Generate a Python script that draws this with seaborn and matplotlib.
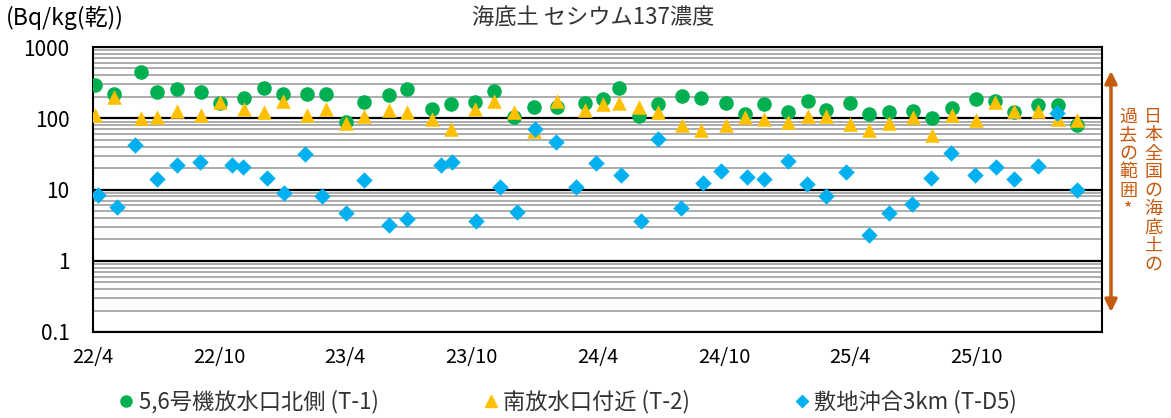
import pandas as pd
import seaborn as sns
import matplotlib.pyplot as plt
import matplotlib.dates as mdates
from matplotlib.lines import Line2D

# sampling dates shared by T-1 and T-2
dates_t12 = ['2022-04-04', '2022-05-02', '2022-06-10', '2022-07-03', '2022-07-31', '2022-09-04',
             '2022-10-02', '2022-11-05', '2022-12-04', '2023-01-01', '2023-02-05', '2023-03-05',
             '2023-04-02', '2023-04-29', '2023-06-03', '2023-06-30', '2023-08-05', '2023-09-01',
             '2023-10-06', '2023-11-03', '2023-12-01', '2023-12-31', '2024-02-02', '2024-03-14',
             '2024-04-08', '2024-05-02', '2024-05-30', '2024-06-27', '2024-08-01', '2024-08-29',
             '2024-10-03', '2024-10-31', '2024-11-28', '2025-01-02', '2025-01-30', '2025-02-26',
             '2025-04-01', '2025-04-29', '2025-05-28', '2025-07-01', '2025-07-29', '2025-08-27',
             '2025-09-30', '2025-10-28', '2025-11-25', '2025-12-30', '2026-01-27', '2026-02-24']
t1_vals = [294, 218, 452, 232, 259, 237, 163, 192, 264, 218, 222, 218,
           88.5, 170, 211, 259, 136, 161, 169, 245, 103, 146, 146, 162,
           188, 267, 107, 158, 204, 192, 166, 113, 158, 121, 176, 131,
           166, 116, 124, 128, 99.5, 140, 188, 172, 124, 155, 153, 81]
t2_vals = [112, 198, 100, 104, 127, 111, 169, 135, 121, 176, 111, 135,
           86, 108, 131, 124, 99, 71, 136, 176, 124, 66, 172, 131,
           158, 166, 146, 121, 81, 68, 81, 103, 98, 89, 106, 108,
           83, 68, 86, 104, 57.5, 111, 94, 169, 127, 128, 98, 95]

dates_d5 = ['2022-04-08', '2022-05-06', '2022-06-01', '2022-07-03', '2022-07-31', '2022-09-03',
            '2022-10-19', '2022-11-04', '2022-12-09', '2023-01-03', '2023-02-02', '2023-02-27',
            '2023-04-02', '2023-04-28', '2023-06-03', '2023-06-30', '2023-08-18', '2023-09-03',
            '2023-10-08', '2023-11-12', '2023-12-06', '2024-01-01', '2024-02-01', '2024-03-01',
            '2024-03-29', '2024-05-05', '2024-06-02', '2024-06-27', '2024-07-31', '2024-08-31',
            '2024-09-27', '2024-11-03', '2024-11-28', '2025-01-01', '2025-01-29', '2025-02-26',
            '2025-03-26', '2025-04-28', '2025-05-27', '2025-06-30', '2025-07-28', '2025-08-26',
            '2025-09-29', '2025-10-29', '2025-11-25', '2025-12-29', '2026-01-26', '2026-02-24']
d5_vals = [8.5, 5.7, 42, 14.1, 21.9, 24.6, 21.9, 20.5, 14.6, 9.0, 32, 8.2,
           4.7, 13.5, 3.2, 3.9, 21.9, 24.1, 3.65, 10.8, 4.8, 70.6, 46.9, 10.8,
           23.3, 15.8, 3.65, 51, 5.5, 12.4, 17.9, 15.0, 13.9, 25.5, 12.0, 8.2,
           17.7, 2.3, 4.7, 6.3, 14.6, 33, 15.8, 21, 14.1, 21.2, 117, 9.7]

series_names = ['5,6号機放水口北側 (T-1)', '南放水口付近 (T-2)', '敷地沖合3km (T-D5)']
x_tick_dates = ['2022-04-01', '2022-10-01', '2023-04-01', '2023-10-01',
                '2024-04-01', '2024-10-01', '2025-04-01', '2025-10-01']
x_tick_labels = ['22/4', '22/10', '23/4', '23/10', '24/4', '24/10', '25/4', '25/10']
y_ticks = [0.1, 1, 10, 100, 1000]
y_tick_labels = ['0.1', '1', '10', '100', '1000']

sns.set_style('white')
plt.rcParams['font.family'] = ['Noto Sans CJK JP', 'DejaVu Sans']

GREEN = '#00B050'
YELLOW = '#FFC000'
BLUE = '#00B0F0'
ORANGE = '#C55A11'
TEXT = '#333333'

df1 = pd.DataFrame({'date': pd.to_datetime(dates_t12), 'value': t1_vals})
df2 = pd.DataFrame({'date': pd.to_datetime(dates_t12), 'value': t2_vals})
df3 = pd.DataFrame({'date': pd.to_datetime(dates_d5), 'value': d5_vals})

fig = plt.figure(figsize=(11.71, 4.18), dpi=100)
ax = fig.add_axes([93 / 1171, 1 - 332 / 418, (1102 - 93) / 1171, (332 - 47) / 418])

sns.scatterplot(x='date', y='value', data=df1, ax=ax, marker='o', s=110,
                color=GREEN, linewidth=0, zorder=3)
sns.scatterplot(x='date', y='value', data=df2, ax=ax, marker='^', s=110,
                color=YELLOW, linewidth=0, zorder=4)
sns.scatterplot(x='date', y='value', data=df3, ax=ax, marker='D', s=70,
                color=BLUE, linewidth=0, zorder=5)

ax.set_yscale('log')
ax.set_ylim(0.1, 1000)
ax.set_xlim(pd.Timestamp('2022-04-01'), pd.Timestamp('2026-04-01'))
ax.set_xlabel('')
ax.set_ylabel('')

# log grid: black decades, gray sub-decades
ax.set_yticks(y_ticks)
ax.set_yticklabels(y_tick_labels)
ax.yaxis.set_minor_locator(plt.matplotlib.ticker.LogLocator(base=10, subs=range(2, 10), numticks=20))
ax.yaxis.set_minor_formatter(plt.NullFormatter())
ax.grid(which='major', axis='y', color='black', linewidth=1.6, zorder=1)
ax.grid(which='minor', axis='y', color='#A6A6A6', linewidth=1.3, zorder=1)
ax.grid(which='both', axis='x', visible=False)
ax.set_axisbelow(True)

ax.set_xticks(pd.to_datetime(x_tick_dates))
ax.set_xticklabels(x_tick_labels)
ax.xaxis.set_minor_locator(mdates.MonthLocator())
ax.tick_params(axis='x', which='major', direction='inout', length=12, width=1.2,
               color='black', labelsize=14.5, labelcolor='black', pad=5)
ax.tick_params(axis='x', which='minor', direction='out', length=5, width=1.0, color='black')
ax.tick_params(axis='y', which='both', length=0, labelsize=15, labelcolor='black', pad=17)

for side in ['left', 'right', 'top', 'bottom']:
    ax.spines[side].set_visible(True)
    ax.spines[side].set_color('black')
    ax.spines[side].set_linewidth(1.5)

fig.text(593 / 1171, 1 - 18 / 418, '海底土 セシウム137濃度', ha='center', va='center',
         fontsize=16, color=TEXT)
fig.text(6 / 1171, 1 - 18 / 418, '(Bq/kg(乾))', ha='left', va='center',
         fontsize=16.5, color='black')

# range arrow on the right
ax.annotate('', xy=(1111 / 1171, 1 - 71 / 418), xytext=(1111 / 1171, 1 - 312 / 418),
            xycoords='figure fraction', textcoords='figure fraction',
            arrowprops=dict(arrowstyle='<|-|>', color=ORANGE, lw=2.5, mutation_scale=18,
                            shrinkA=0, shrinkB=0))
col_right = '日本全国の海底土の'
col_left = '過去の範囲*'
for i, ch in enumerate(col_right):
    fig.text(1153 / 1171, 1 - (117 + i * 18.4) / 418, ch, ha='center', va='center',
             fontsize=13, color=ORANGE)
for i, ch in enumerate(col_left):
    fig.text(1128 / 1171, 1 - (117 + i * 18.4) / 418, ch, ha='center', va='center',
             fontsize=13, color=ORANGE)

handles = [Line2D([], [], linestyle='none', marker='o', markersize=8, color=GREEN),
           Line2D([], [], linestyle='none', marker='^', markersize=8, color=YELLOW),
           Line2D([], [], linestyle='none', marker='D', markersize=6, color=BLUE)]
fig.legend(handles, series_names, loc='center', bbox_to_anchor=(569 / 1171, 1 - 402 / 418),
           ncol=3, frameon=False, fontsize=16, handlelength=0.5, handletextpad=0.3,
           columnspacing=4.8, labelcolor=TEXT)

fig.savefig('out.png', dpi=100)
plt.close(fig)
